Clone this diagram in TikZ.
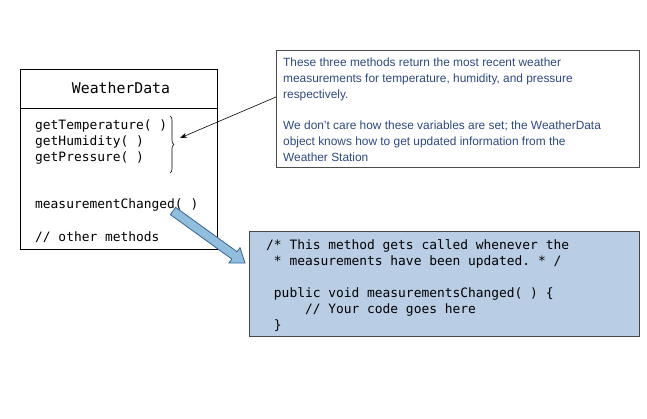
\documentclass[tikz,border=0pt]{standalone}
\usepackage{fontspec}
\setmainfont{Liberation Sans}
\setmonofont{DejaVu Sans Mono}
\usetikzlibrary{calc,decorations.pathreplacing,arrows.meta}
\definecolor{notetext}{RGB}{45,72,128}
\definecolor{codefill}{RGB}{185,205,229}
\definecolor{codeline}{RGB}{70,70,70}
\definecolor{arrfill}{RGB}{146,190,222}
\definecolor{arrline}{RGB}{55,100,150}
\tikzset{
  umlbox/.style={draw=black, line width=0.8pt, inner sep=0pt},
  monotext/.style={font=\ttfamily\fontsize{12.9}{16}\selectfont, inner sep=0pt, anchor=west},
  notebox/.style={draw=black!70, line width=0.8pt, inner sep=0pt},
  notetxt/.style={font=\fontsize{11.9}{15.7}\selectfont, text=notetext, align=left, inner sep=0pt, anchor=north west},
  codebox/.style={draw=codeline, fill=codefill, line width=0.8pt, inner sep=0pt},
  codetxt/.style={font=\ttfamily\fontsize{12.9}{16}\selectfont, align=left, inner sep=0pt, anchor=north west},
  blockarrow/.style={draw=arrline, fill=arrfill, line width=0.8pt, line join=miter}
}
\begin{document}
\begin{tikzpicture}[x=1pt,y=-1pt]
\useasboundingbox (0,0) rectangle (647,419);
% class box
\node[umlbox, minimum width=197pt, minimum height=180pt] (cls) at (118.5,159) {};
\coordinate (divL) at (20,108);
\coordinate (divR) at (217,108);
\draw[line width=0.8pt] (divL) -- (divR);
\node[font=\ttfamily\fontsize{14.8}{17}\selectfont, inner sep=0pt] (title) at (121,88) {WeatherData};
\node[monotext] (m1) at (35,126) {getTemperature(\ )};
\node[monotext] (m2) at (35,142) {getHumidity(\ )};
\node[monotext] (m3) at (35,157.5) {getPressure(\ )};
\node[monotext] (m4) at (35,205) {measurementChanged(\ )};
\node[monotext] (m5) at (35,237) {//\ other\ methods};
% brace
\coordinate (bt) at (170,116);
\coordinate (bb) at (170,173);
\draw[decorate, decoration={brace, amplitude=4pt}, line width=0.6pt] (bt) -- (bb);
\coordinate (btip) at (180,138);
% note box
\node[notebox, minimum width=363pt, minimum height=117pt] (note) at (457.5,108.5) {};
\node[notetxt] (notetext) at (283,58) {These three methods return the most recent weather\\measurements for temperature, humidity, and pressure\\respectively.\\[15.7pt]We don’t care how these variables are set; the WeatherData\\object knows how to get updated information from the\\Weather Station};
\coordinate (ns) at (276,97);
\draw[-{Stealth[length=7pt,width=5pt]}, line width=0.6pt] (ns) -- (btip);
% code box
\node[codebox, minimum width=390pt, minimum height=105pt] (code) at (444,283.5) {};
\node[codetxt] (codetext) at (266,239) {/*\ This\ method\ gets\ called\ whenever\ the\\\ *\ measurements\ have\ been\ updated.\ *\ /\\[16pt]\ public\ void\ measurementsChanged(\ )\ \{\\\ \ \ \ \ //\ Your\ code\ goes\ here\\\ \}};
% block arrow
\coordinate (A) at (173,211);
\coordinate (B) at (245,263);
\coordinate (H) at ($(B)!13pt!(A)$);
\draw[blockarrow] ($(A)!4.5pt!90:(B)$) -- ($(H)!4.5pt!-90:(A)$) -- ($(H)!9.5pt!-90:(A)$) -- (B) -- ($(H)!9.5pt!90:(A)$) -- ($(H)!4.5pt!90:(A)$) -- ($(A)!4.5pt!-90:(B)$) -- cycle;
\end{tikzpicture}
\end{document}
